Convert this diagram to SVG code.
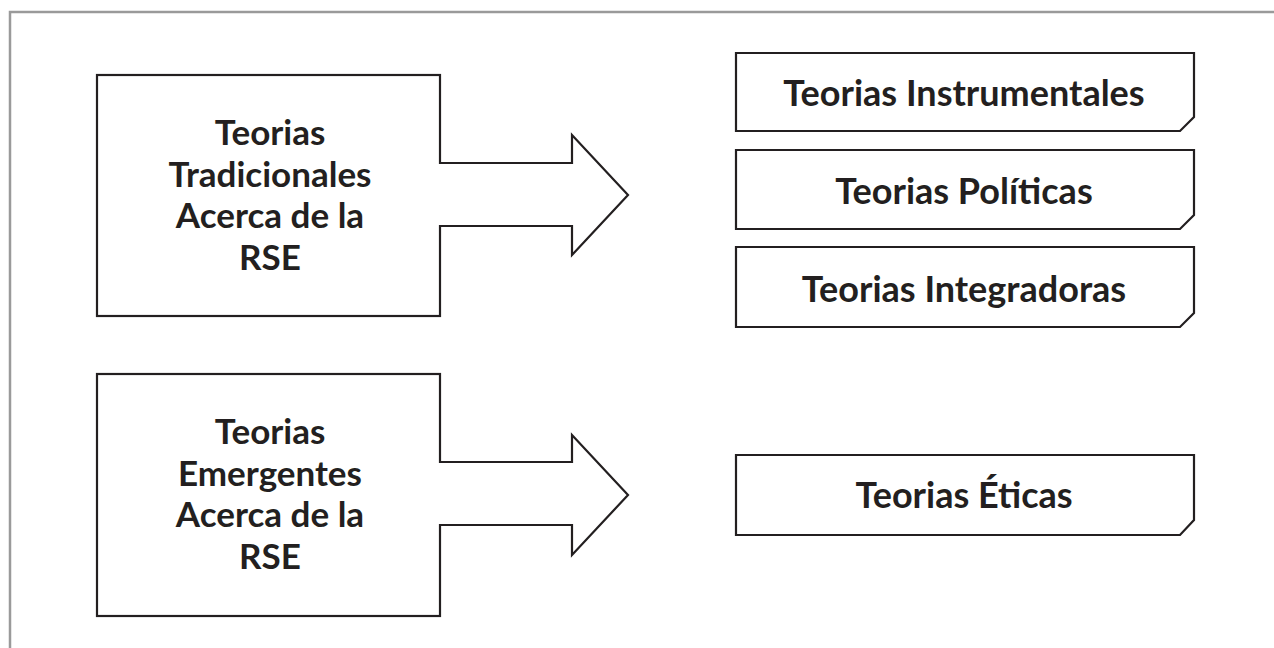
<svg xmlns="http://www.w3.org/2000/svg" width="1274" height="648" viewBox="0 0 1274 648">
<style>
.frame{fill:none;stroke:#9a9a9a;stroke-width:2.5}
.box{fill:#fff;stroke:#231f20;stroke-width:2.2}
.arrow{fill:none;stroke:#231f20;stroke-width:2.2;stroke-linejoin:miter}
.arrowfill{fill:#fff;stroke:none}
.t{font-family:Lato,"Noto Sans","Liberation Sans",sans-serif;font-weight:bold;fill:#231f20;text-anchor:middle}
.tl{font-size:35px}
.tr{font-size:36px}
</style>
<rect width="1274" height="648" fill="#fff"/>
<path class="frame" d="M10,648 V12 H1274"/>

<g id="node-tradicionales">
<rect class="box" x="97" y="75" width="343" height="241"/>
<text class="t tl" x="270" y="145">Teorias</text>
<text class="t tl" x="270" y="187">Tradicionales</text>
<text class="t tl" x="270" y="228">Acerca de la</text>
<text class="t tl" x="270" y="270">RSE</text>
</g>

<g id="node-emergentes">
<rect class="box" x="97" y="374" width="343" height="242"/>
<text class="t tl" x="270" y="444">Teorias</text>
<text class="t tl" x="270" y="486">Emergentes</text>
<text class="t tl" x="270" y="527">Acerca de la</text>
<text class="t tl" x="270" y="569">RSE</text>
</g>

<g id="node-instrumentales">
<path class="box" d="M736,53 H1194 V117 L1180,131 H736 Z"/>
<text class="t tr" x="964" y="106">Teorias Instrumentales</text>
</g>
<g id="node-politicas">
<path class="box" d="M736,150 H1194 V215 L1180,229 H736 Z"/>
<text class="t tr" x="964" y="204">Teorias Políticas</text>
</g>
<g id="node-integradoras">
<path class="box" d="M736,247 H1194 V313 L1180,327 H736 Z"/>
<text class="t tr" x="964" y="302">Teorias Integradoras</text>
</g>
<g id="node-eticas">
<path class="box" d="M736,455 H1194 V520 L1180,535 H736 Z"/>
<text class="t tr" x="964" y="508">Teorias Éticas</text>
</g>

<g id="connectors">
<polygon class="arrowfill" points="438,164 572,164 572,136 627,195 572,254 572,225 438,225"/>
<path class="arrow" d="M440,163 H572 V135 L628,195 L572,255 V226 H440"/>
<polygon class="arrowfill" points="438,463 572,463 572,436 627,495 572,554 572,524 438,524"/>
<path class="arrow" d="M440,462 H572 V435 L628,495 L572,555 V525 H440"/>
</g>
</svg>
